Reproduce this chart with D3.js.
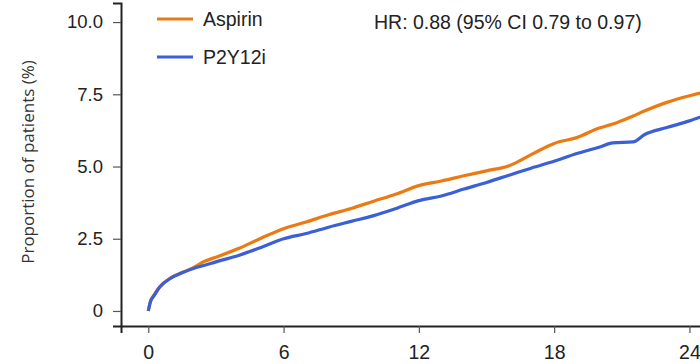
<!DOCTYPE html>
<html>
<head>
<meta charset="utf-8">
<script src="https://cdn.jsdelivr.net/npm/d3@7"></script>
<style>
  body { margin: 0; background: #fff; }
  svg { display: block; font-family: "Liberation Sans", Arial, sans-serif; }
</style>
</head>
<body>
<svg id="chart" width="700" height="364"></svg>
<script>
// months since randomisation
const months = [0, 0.1, 0.25, 0.5, 1, 1.5, 2, 2.5, 3, 4, 5, 6, 7, 8, 9, 10, 11, 12,
  13, 14, 15, 16, 17, 18, 19, 20, 20.6, 21.5, 22, 23, 24, 24.5];

// cumulative incidence (%)
const aspirin = [0, 0.35, 0.55, 0.83, 1.15, 1.33, 1.5, 1.72, 1.86, 2.16, 2.52, 2.85, 3.08, 3.33,
  3.55, 3.8, 4.05, 4.34, 4.5, 4.68, 4.85, 5.03, 5.42, 5.8, 6.0, 6.33, 6.47, 6.75, 6.92, 7.22, 7.45, 7.55];
const p2y12i = [0, 0.33, 0.52, 0.82, 1.14, 1.32, 1.47, 1.58, 1.7, 1.92, 2.2, 2.5, 2.68, 2.9,
  3.1, 3.3, 3.55, 3.82, 3.98, 4.22, 4.45, 4.7, 4.95, 5.18, 5.45, 5.67, 5.82, 5.85, 6.1, 6.35, 6.58, 6.72];

const xTicks = [0, 6, 12, 18, 24];
const yTicks = [0, 2.5, 5, 7.5, 10];
const yTickLabels = ["0", "2.5", "5.0", "7.5", "10.0"];

const seriesNames = ["Aspirin", "P2Y12i"];
const colors = ["#ec7a12", "#3a5fd6"];
const hrText = "HR: 0.88 (95% CI 0.79 to 0.97)";

const svg = d3.select("#chart");

// scales span the whole axis line, ticks placed at data values
const x = d3.scaleLinear().domain([-1.21, 25]).range([121, 712]);
const y = d3.scaleLinear().domain([-0.52, 10.66]).range([326, 3]);

// x axis
const gx = svg.append("g")
  .attr("transform", "translate(0,326)")
  .call(d3.axisBottom(x).tickValues(xTicks).tickSizeOuter(0).tickSize(7).tickPadding(12));
gx.select(".domain").attr("stroke", "#222").attr("stroke-width", 2);
gx.selectAll(".tick line").attr("stroke", "#555").attr("stroke-width", 1.2);
gx.selectAll("text").attr("font-size", 19.5).attr("fill", "#222");

// y axis
const gy = svg.append("g")
  .attr("transform", "translate(121,0)")
  .call(d3.axisLeft(y).tickValues(yTicks).tickSizeOuter(0).tickSize(8).tickPadding(10)
    .tickFormat((d, i) => yTickLabels[i]));
gy.select(".domain").attr("stroke", "#222").attr("stroke-width", 2);
gy.selectAll(".tick line").attr("stroke", "#555").attr("stroke-width", 1.2);
gy.selectAll("text").attr("font-size", 18.5).attr("fill", "#222");

svg.append("text")
  .attr("transform", "translate(28,162) rotate(-90)")
  .attr("text-anchor", "middle")
  .attr("dy", "0.35em")
  .attr("font-family", "'Open Sans', sans-serif")
  .attr("font-size", 17)
  .attr("fill", "#333")
  .text("Proportion of patients (%)");

// curves
const line = d3.line()
  .x(d => x(d[0]))
  .y(d => y(d[1]))
  .curve(d3.curveMonotoneX);

[aspirin, p2y12i].forEach((vals, i) => {
  svg.append("path")
    .datum(months.map((m, j) => [m, vals[j]]))
    .attr("fill", "none")
    .attr("stroke", colors[i])
    .attr("stroke-width", 3.2)
    .attr("stroke-linejoin", "round")
    .attr("d", line);
});

// legend
const legend = svg.append("g");
seriesNames.forEach((name, i) => {
  const ly = 19 + i * 38;
  legend.append("line")
    .attr("x1", 157).attr("x2", 193)
    .attr("y1", ly).attr("y2", ly)
    .attr("stroke", colors[i])
    .attr("stroke-width", 3);
  legend.append("text")
    .attr("x", 203).attr("y", ly)
    .attr("dy", "0.35em")
    .attr("font-size", 19.5)
    .attr("fill", "#222")
    .text(name);
});

svg.append("text")
  .attr("x", 374).attr("y", 22)
  .attr("dy", "0.35em")
  .attr("font-size", 19.5)
  .attr("fill", "#222")
  .text(hrText);
</script>
</body>
</html>
